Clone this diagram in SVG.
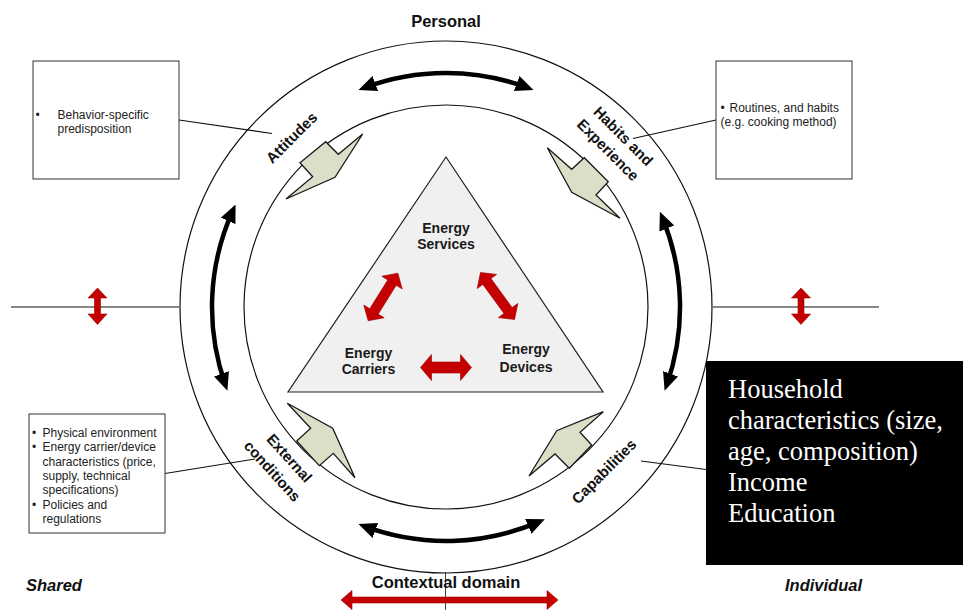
<svg xmlns="http://www.w3.org/2000/svg" width="963" height="610" viewBox="0 0 963 610">
  <style>
    .ring { fill: none; stroke: #111; stroke-width: 1.2; }
    .thin { fill: none; stroke: #111; stroke-width: 1.1; }
    .cycle { fill: none; stroke: #000; stroke-width: 4.5; marker-start: url(#head); marker-end: url(#head); }
    .bolt { fill: #dcdfc8; stroke: #1a1a1a; stroke-width: 1.3; stroke-linejoin: miter; }
    .red { fill: #c40000; stroke: #a00000; stroke-width: 0.6; }
    .lbl { font-family: "Liberation Sans", Arial, sans-serif; font-weight: bold; font-size: 15px; fill: #111; text-anchor: middle; }
    .title { font-family: "Liberation Sans", Arial, sans-serif; font-weight: bold; font-size: 16.5px; fill: #111; }
    .tri { font-family: "Liberation Sans", Arial, sans-serif; font-weight: bold; font-size: 14px; fill: #1a1a1a; text-anchor: middle; }
    .box { fill: #fff; stroke: #333; stroke-width: 1; }
    .note { font-family: "Liberation Sans", Arial, sans-serif; font-size: 12px; fill: #222; }
    .serif { font-family: "Liberation Serif", "Times New Roman", serif; font-size: 26.5px; fill: #fff; }
  </style>
  <defs>
    <marker id="head" viewBox="0 0 18 16" refX="12" refY="8" markerWidth="18" markerHeight="16" markerUnits="userSpaceOnUse" orient="auto-start-reverse">
      <path d="M0,0 L18,8 L0,16 z" fill="#000"/>
    </marker>
  </defs>

  <rect width="963" height="610" fill="#fff"/>

  <!-- domain axes -->
  <g id="axes">
    <line class="thin" x1="11" y1="307" x2="179" y2="307"/>
    <line class="thin" x1="713" y1="307" x2="879" y2="307"/>
    <line x1="445.5" y1="572" x2="445.5" y2="610" stroke="#444" stroke-width="1"/>
    <path class="red" d="M97.5,288 L107,298 L100.5,298 L100.5,314 L107,314 L97.5,324.5 L88,314 L94.5,314 L94.5,298 L88,298 Z"/>
    <path class="red" d="M801,288 L810.5,298 L804,298 L804,314 L810.5,314 L801,324.5 L791.5,314 L798,314 L798,298 L791.5,298 Z"/>
    <path class="red" d="M341,600 L352,590.5 L352,597 L547,597 L547,590.5 L558,600 L547,609.5 L547,603 L352,603 L352,609.5 Z"/>
    <text class="title" x="446" y="27" text-anchor="middle">Personal</text>
    <text class="title" x="446" y="587.5" text-anchor="middle">Contextual domain</text>
    <text class="title" x="26" y="591" font-style="italic">Shared</text>
    <text class="title" x="785" y="591" font-style="italic">Individual</text>
  </g>

  <!-- rings -->
  <g id="rings">
    <circle class="ring" cx="446" cy="307" r="266"/>
    <circle class="ring" cx="446" cy="307" r="202"/>
  </g>

  <!-- curved feedback arrows in the ring -->
  <g id="connectors">
    <path class="cycle" d="M364.1,87.8 A234,234 0 0 1 527.9,87.8"/>
    <path class="cycle" d="M233.1,210 A234,234 0 0 0 225.4,385.1"/>
    <path class="cycle" d="M662.2,217.4 A234,234 0 0 1 666.6,385.1"/>
    <path class="cycle" d="M364.1,526.2 A234,234 0 0 0 539.3,521.6"/>
    <!-- callout leaders -->
    <line class="thin" x1="179" y1="120" x2="272" y2="133.5"/>
    <line class="thin" x1="633" y1="138.5" x2="716" y2="120"/>
    <line class="thin" x1="165" y1="473.5" x2="255" y2="459"/>
    <line class="thin" x1="641" y1="461" x2="706" y2="469.5"/>
  </g>

  <!-- energy triangle -->
  <g id="triangle">
    <polygon points="446,157 288,392 603,392" fill="#f0f0f0" stroke="#222" stroke-width="1.2"/>
    <text class="tri" x="446" y="233"><tspan x="446">Energy</tspan><tspan x="446" dy="16.3">Services</tspan></text>
    <text class="tri" x="368.5" y="357.5"><tspan x="368.5">Energy</tspan><tspan x="368.5" dy="16.5">Carriers</tspan></text>
    <text class="tri" x="526" y="354"><tspan x="526">Energy</tspan><tspan x="526" dy="17.5">Devices</tspan></text>
    <path class="red" transform="translate(383,297) rotate(-58)" d="M-28,0 L-17,-12 L-17,-5 L17,-5 L17,-12 L28,0 L17,12 L17,5 L-17,5 L-17,12 Z"/>
    <path class="red" transform="translate(497.5,296) rotate(54)" d="M-29,0 L-18,-12 L-18,-5 L18,-5 L18,-12 L29,0 L18,12 L18,5 L-18,5 L-18,12 Z"/>
    <path class="red" transform="translate(446,367.5)" d="M-25.5,0 L-14.5,-13 L-14.5,-5.5 L14.5,-5.5 L14.5,-13 L25.5,0 L14.5,13 L14.5,5.5 L-14.5,5.5 L-14.5,13 Z"/>
  </g>

  <!-- ring factors -->
  <g id="attitudes">
    <polygon class="bolt" points="362.7,134 338.3,154.3 325.7,141.7 300,162.7 312.7,176.7 286,199 335,177.3"/>
    <text class="lbl" transform="translate(291.5,137.5) rotate(-45)" dy="0.36em">Attitudes</text>
  </g>
  <g id="habits">
    <polygon class="bolt" points="547.3,147.7 571.7,169.3 584.3,157.7 608.3,181.7 596,195 620,218.3 571.7,192.3"/>
    <text class="lbl" transform="translate(623.5,136) rotate(45)" dy="0.36em">Habits and</text>
    <text class="lbl" transform="translate(607,151) rotate(45)" dy="0.25em">Experience</text>
  </g>
  <g id="external">
    <polygon class="bolt" points="287.3,403.3 310.7,428.3 296.7,441 319.3,465.7 333.3,453.3 355,477.7 332.7,428.3"/>
    <text class="lbl" transform="translate(289.5,458) rotate(48)" dy="0.36em">External</text>
    <text class="lbl" transform="translate(272.5,471) rotate(48)" dy="0.36em">conditions</text>
  </g>
  <g id="capabilities">
    <polygon class="bolt" points="529,476 556.7,430.7 603.3,411.7 580,432.3 591.7,445 569.3,468.3 555,454"/>
    <text class="lbl" transform="translate(605,472.5) rotate(-45)" dy="0.25em">Capabilities</text>
  </g>

  <!-- callout boxes -->
  <g id="attitudes-note">
    <rect class="box" x="33" y="61" width="146" height="118"/>
    <text class="note" x="35.5" y="118.5">•</text>
    <text class="note" x="57.5" y="118.5">Behavior-specific</text>
    <text class="note" x="57.5" y="133">predisposition</text>
  </g>
  <g id="habits-note">
    <rect class="box" x="716" y="61" width="136" height="118"/>
    <text class="note" x="720.5" y="111.5">•</text>
    <text class="note" x="729.5" y="111.5">Routines, and habits</text>
    <text class="note" x="720.5" y="126">(e.g. cooking method)</text>
  </g>
  <g id="external-note">
    <rect class="box" x="29" y="414" width="136" height="119"/>
    <text class="note">
      <tspan x="32" y="437">•</tspan><tspan x="42.5" y="437">Physical environment</tspan>
      <tspan x="32" y="451.3">•</tspan><tspan x="42.5" y="451.3">Energy carrier/device</tspan>
      <tspan x="42.5" y="465.6">characteristics (price,</tspan>
      <tspan x="42.5" y="479.9">supply, technical</tspan>
      <tspan x="42.5" y="494.2">specifications)</tspan>
      <tspan x="32" y="508.5">•</tspan><tspan x="42.5" y="508.5">Policies and</tspan>
      <tspan x="42.5" y="522.8">regulations</tspan>
    </text>
  </g>
  <g id="capabilities-note">
    <rect x="706" y="361" width="257" height="204" fill="#000"/>
    <text class="serif">
      <tspan x="728" y="398">Household</tspan>
      <tspan x="728" y="429">characteristics (size,</tspan>
      <tspan x="728" y="460">age, composition)</tspan>
      <tspan x="728" y="491">Income</tspan>
      <tspan x="728" y="521.5">Education</tspan>
    </text>
  </g>
</svg>
